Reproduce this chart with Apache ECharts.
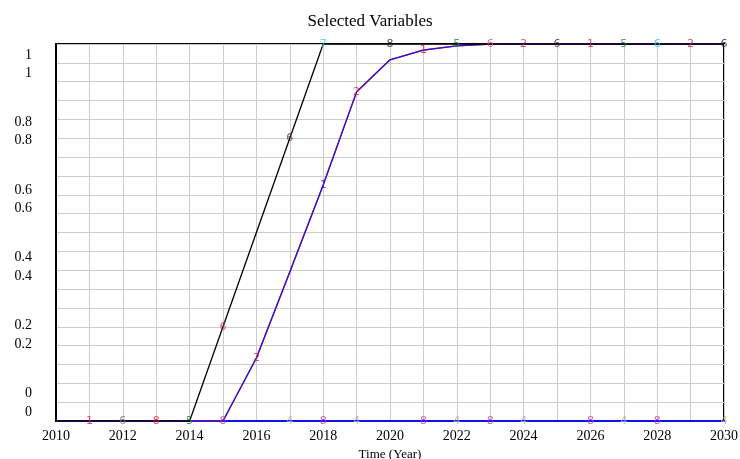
<!DOCTYPE html>
<html>
<head>
<meta charset="utf-8">
<script src="https://cdn.jsdelivr.net/npm/echarts@6/dist/echarts.min.js"></script>
<style>
  html, body { margin: 0; padding: 0; background: #fff; }
  #main { width: 740px; height: 459px; }
</style>
</head>
<body>
<div id="main"></div>
<script>
// years and series values
var years = [2010, 2011, 2012, 2013, 2014, 2015, 2016, 2017, 2018, 2019, 2020,
             2021, 2022, 2023, 2024, 2025, 2026, 2027, 2028, 2029, 2030];
var curveValues = [0, 0, 0, 0, 0, 0, 0.167, 0.395, 0.626, 0.873, 0.958,
                   0.984, 0.995, 1, 1, 1, 1, 1, 1, 1, 1];
var rampValues = [0, 0, 0, 0, 0, 0.25, 0.5, 0.75, 1, 1, 1,
                  1, 1, 1, 1, 1, 1, 1, 1, 1, 1];
var zeroValues = [0, 0, 0, 0, 0, 0, 0, 0, 0, 0, 0,
                  0, 0, 0, 0, 0, 0, 0, 0, 0, 0];
var yTickLabels = ['0', '0.2', '0.4', '0.6', '0.8', '1'];
var yTickValues = [0, 0.2, 0.4, 0.6, 0.8, 1];

// number glyphs Vensim puts on the lines: [year, glyph, colour, which line]
var glyphs = [
  [2011, '1', '#e0203c', 'curve'], [2018, '1', '#3a20d8', 'curve'], [2021, '1', '#e0203c', 'curve'],
  [2026, '1', '#e0203c', 'curve'], [2013, '8', '#e0203c', 'curve'], [2016, '2', '#d02838', 'curve'],
  [2019, '2', '#e0203c', 'curve'], [2024, '2', '#d02838', 'curve'], [2029, '2', '#d02838', 'curve'],
  [2012, '6', '#707070', 'ramp'], [2014, '5', '#208a30', 'ramp'], [2015, '6', '#c83c5c', 'ramp'],
  [2017, '6', '#603040', 'ramp'], [2018, '7', '#30d8d8', 'ramp'], [2020, '8', '#202020', 'ramp'],
  [2022, '5', '#208a30', 'ramp'], [2023, '6', '#c85060', 'ramp'], [2025, '6', '#303030', 'ramp'],
  [2027, '5', '#208a30', 'ramp'], [2028, '6', '#30c0c0', 'ramp'], [2030, '6', '#302020', 'ramp'],
  [2015, '8', '#b040b0', 'zero'], [2018, '8', '#b040b0', 'zero'], [2021, '8', '#b040b0', 'zero'],
  [2023, '8', '#b040b0', 'zero'], [2026, '8', '#b040b0', 'zero'], [2028, '8', '#b040b0', 'zero'],
  [2017, '4', '#a8a8a8', 'zero'], [2019, '4', '#a8a8a8', 'zero'], [2022, '4', '#a8a8a8', 'zero'],
  [2024, '4', '#a8a8a8', 'zero'], [2027, '4', '#a8a8a8', 'zero'], [2030, '4', '#a8a8a8', 'zero']
];

function pairs(vals) {
    return years.map(function (y, i) { return [y, vals[i]]; });
}

var lines = { curve: curveValues, ramp: rampValues, zero: zeroValues };
var glyphData = glyphs.map(function (g) {
    var v = lines[g[3]][years.indexOf(g[0])];
    return {
        value: [g[0], v],
        label: { formatter: g[1], color: g[2] }
    };
});

var font = 'Liberation Serif, Times New Roman, serif';
var chart = echarts.init(document.getElementById('main'));

function labelAxis(min, max) {
    return {
        type: 'value', position: 'left', min: min, max: max,
        axisLine: { show: false }, axisTick: { show: false }, splitLine: { show: false },
        axisLabel: {
            fontFamily: font, fontSize: 14, color: '#000', margin: 24,
            customValues: yTickValues,
            formatter: function (v) { return yTickLabels[yTickValues.indexOf(v)]; }
        }
    };
}

var option = {
    animation: false,
    backgroundColor: '#fff',
    title: {
        text: 'Selected Variables',
        left: 'center',
        top: 8,
        textStyle: { fontFamily: font, fontWeight: 'normal', fontSize: 17, color: '#000' }
    },
    grid: {
        left: 56, right: 16, top: 44, bottom: 38,
        outerBoundsMode: 'none', containLabel: false,
        show: true, borderColor: '#000', borderWidth: 2
    },
    xAxis: {
        type: 'value', min: 2010, max: 2030, interval: 1,
        name: 'Time (Year)', nameLocation: 'middle', nameGap: 25,
        nameTextStyle: { fontFamily: font, fontSize: 13, color: '#000' },
        axisLine: { show: true, lineStyle: { color: '#000', width: 2 } },
        axisTick: { show: false },
        axisLabel: {
            fontFamily: font, fontSize: 14, color: '#000', margin: 8,
            formatter: function (v) { return v % 2 === 0 ? String(v) : ''; }
        },
        splitLine: { show: true, lineStyle: { color: '#cccccc', width: 1 } }
    },
    yAxis: [
        {
            type: 'value', position: 'left', min: 0, max: 1, interval: 0.05,
            axisLine: { show: true, lineStyle: { color: '#000', width: 2 } },
            axisTick: { show: false },
            axisLabel: { show: false },
            splitLine: { show: true, lineStyle: { color: '#cccccc', width: 1 } }
        },
        labelAxis(-0.0828, 1.0325),
        labelAxis(-0.0265, 1.0855)
    ],
    series: [
        {
            type: 'line', data: pairs(zeroValues), symbol: 'none',
            lineStyle: { color: '#1010f0', width: 2 }
        },
        {
            type: 'line', data: pairs(curveValues), symbol: 'none',
            lineStyle: { color: '#e02020', width: 1.4 }
        },
        {
            type: 'line', data: pairs(curveValues), symbol: 'none',
            lineStyle: { color: '#2812ea', width: 1.3 }
        },
        {
            type: 'line', data: pairs(rampValues), symbol: 'none',
            lineStyle: { color: '#000', width: 1.3 }
        },
        {
            type: 'scatter', data: glyphData,
            symbol: 'circle', symbolSize: 1,
            itemStyle: { color: 'rgba(0,0,0,0)' },
            label: {
                show: true, position: 'inside',
                fontFamily: 'DejaVu Sans, sans-serif', fontSize: 11
            },
            z: 5
        }
    ]
};

chart.setOption(option);
</script>
</body>
</html>
